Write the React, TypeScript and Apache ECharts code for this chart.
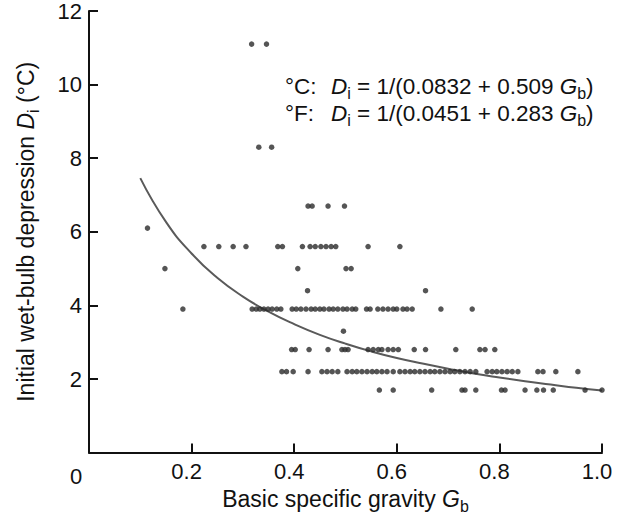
import React, { useEffect, useRef } from "react";
import * as echarts from "echarts";

// Initial wet-bulb depression levels (°C) and the specific gravity values seen at each level
const D_LEVELS = [11.1, 8.3, 6.7, 6.1, 5.6, 5.0, 4.4, 3.9, 3.3, 2.8, 2.2, 1.7];
const G_AT_11_1 = [0.317, 0.346];
const G_AT_8_3 = [0.331, 0.356];
const G_AT_6_7 = [0.427, 0.435, 0.466, 0.498];
const G_AT_6_1 = [0.114];
const G_AT_5_6 = [0.224, 0.253, 0.281, 0.306, 0.368, 0.377, 0.416, 0.431, 0.441, 0.452, 0.462, 0.472, 0.481, 0.544, 0.606];
const G_AT_5_0 = [0.148, 0.407, 0.501, 0.511];
const G_AT_4_4 = [0.426, 0.656];
const G_AT_3_9 = [0.183, 0.318, 0.326, 0.333, 0.341, 0.349, 0.357, 0.366, 0.374, 0.396, 0.404, 0.413, 0.423, 0.433, 0.441, 0.45, 0.458, 0.468, 0.476, 0.485, 0.495, 0.503, 0.513, 0.52, 0.541, 0.548, 0.563, 0.573, 0.583, 0.593, 0.6, 0.612, 0.62, 0.63, 0.686, 0.747];
const G_AT_3_3 = [0.496];
const G_AT_2_8 = [0.395, 0.402, 0.429, 0.466, 0.493, 0.499, 0.505, 0.544, 0.554, 0.564, 0.571, 0.583, 0.593, 0.603, 0.634, 0.656, 0.715, 0.762, 0.772, 0.791];
const G_AT_2_2 = [0.376, 0.385, 0.398, 0.427, 0.454, 0.464, 0.474, 0.485, 0.503, 0.513, 0.522, 0.532, 0.542, 0.552, 0.561, 0.571, 0.581, 0.593, 0.606, 0.616, 0.626, 0.635, 0.645, 0.655, 0.665, 0.674, 0.684, 0.694, 0.704, 0.713, 0.723, 0.733, 0.743, 0.754, 0.776, 0.786, 0.795, 0.805, 0.815, 0.825, 0.836, 0.875, 0.885, 0.91, 0.953];
const G_AT_1_7 = [0.566, 0.593, 0.668, 0.727, 0.733, 0.754, 0.804, 0.811, 0.85, 0.873, 0.886, 0.905, 0.967, 1.0];
const G_BY_LEVEL = [G_AT_11_1, G_AT_8_3, G_AT_6_7, G_AT_6_1, G_AT_5_6, G_AT_5_0, G_AT_4_4, G_AT_3_9, G_AT_3_3, G_AT_2_8, G_AT_2_2, G_AT_1_7];

// Fitted curve
const FIT_G = [0.1, 0.15, 0.2, 0.25, 0.3, 0.35, 0.4, 0.45, 0.5, 0.55, 0.6, 0.65, 0.7, 0.75, 0.8, 0.85, 0.9, 0.95, 1.0];
const FIT_D = [7.46, 6.27, 5.41, 4.75, 4.24, 3.83, 3.49, 3.2, 2.96, 2.75, 2.57, 2.42, 2.28, 2.15, 2.04, 1.94, 1.85, 1.76, 1.69];

const EQ_LABELS = ["°C:", "°F:"];
const EQ_A = ["0.0832", "0.0451"];
const EQ_B = ["0.509", "0.283"];

const X_MIN = 0, X_MAX = 1, X_STEP = 0.2;
const Y_MIN = 0, Y_MAX = 12, Y_STEP = 2;

const FONT = "Liberation Sans, Arial, Helvetica, sans-serif";
const FS_TICK = 22;
const FS_TITLE = 23;
const FS_EQ = 22.5;
const INK = "#111";

const makeRich = (fs: number) => ({
  n: { fontSize: fs, lineHeight: 30, fontFamily: FONT, color: INK },
  i: { fontSize: fs, lineHeight: 30, fontFamily: FONT, fontStyle: "italic", color: INK },
  s: { fontSize: Math.round(fs * 0.7), lineHeight: 15, fontFamily: FONT, verticalAlign: "bottom", color: INK },
});

export default function App() {
  const ref = useRef<HTMLDivElement>(null);
  useEffect(() => {
    const chart = echarts.init(ref.current!, null, { renderer: "svg" });
    const points: number[][] = [];
    G_BY_LEVEL.forEach((arr, k) => arr.forEach((g) => points.push([g, D_LEVELS[k]])));
    const fit = FIT_G.map((g, k) => [g, FIT_D[k]]);

    const eqGraphics: any[] = [];
    EQ_LABELS.forEach((lab, k) => {
      const y = 86 + k * 27;
      eqGraphics.push({
        type: "text", x: 285, y,
        style: { text: lab, fontSize: FS_EQ, fontFamily: FONT, fill: INK, textAlign: "left", textVerticalAlign: "middle" },
      });
      eqGraphics.push({
        type: "text", x: 331, y,
        style: {
          text: `{i|D}{s|i}{n| = 1/(${EQ_A[k]} + ${EQ_B[k]} }{i|G}{s|b}{n|)}`,
          rich: makeRich(FS_EQ), fontSize: FS_EQ, fontFamily: FONT, fill: INK, textAlign: "left", textVerticalAlign: "middle",
        },
      });
    });

    const axisCommon = {
      axisLine: { show: true, lineStyle: { color: INK, width: 2 } },
      axisTick: { show: true, inside: true, length: 9, lineStyle: { color: INK, width: 2 } },
      splitLine: { show: false },
    };

    chart.setOption({
      animation: false,
      grid: { left: 89, right: 24, top: 11, bottom: 61, containLabel: false },
      xAxis: {
        type: "value", min: X_MIN, max: X_MAX, interval: X_STEP,
        ...axisCommon,
        axisLabel: {
          fontSize: FS_TICK, fontFamily: FONT, color: INK, margin: 8, padding: [0, 10, 0, 0],
          formatter: (v: number) => (v === 0 ? "" : v.toFixed(1)),
        },
        name: "{n|Basic specific gravity }{i|G}{s|b}",
        nameLocation: "middle", nameGap: 28,
        nameTextStyle: { fontSize: FS_TITLE, fontFamily: FONT, color: INK, rich: makeRich(FS_TITLE) },
      },
      yAxis: {
        type: "value", min: Y_MIN, max: Y_MAX, interval: Y_STEP,
        ...axisCommon,
        axisLabel: {
          fontSize: FS_TICK, fontFamily: FONT, color: INK, margin: 7,
          formatter: (v: number) => (v === 0 ? "" : String(v)),
        },
        name: "{n|Initial wet-bulb depression }{i|D}{s|i}{n| (°C)}",
        nameLocation: "middle", nameRotate: 90, nameGap: 48,
        nameTextStyle: { fontSize: FS_TITLE, fontFamily: FONT, color: INK, rich: makeRich(FS_TITLE) },
      },
      graphic: [
        {
          type: "text", x: 76, y: 476,
          style: { text: "0", fontSize: FS_TICK, fontFamily: FONT, fill: INK, textAlign: "center", textVerticalAlign: "middle" },
        },
        ...eqGraphics,
      ],
      series: [
        {
          type: "scatter", data: points, symbolSize: 5.5,
          itemStyle: { color: "#2a2a2a" }, z: 3,
        },
        {
          type: "line", data: fit, smooth: true, showSymbol: false,
          lineStyle: { color: "#5a5a5a", width: 2 }, z: 2,
        },
      ],
    });
    return () => chart.dispose();
  }, []);
  return <div ref={ref} style={{ position: "fixed", left: 0, top: 0, width: 626, height: 519, background: "#fff" }} />;
}
